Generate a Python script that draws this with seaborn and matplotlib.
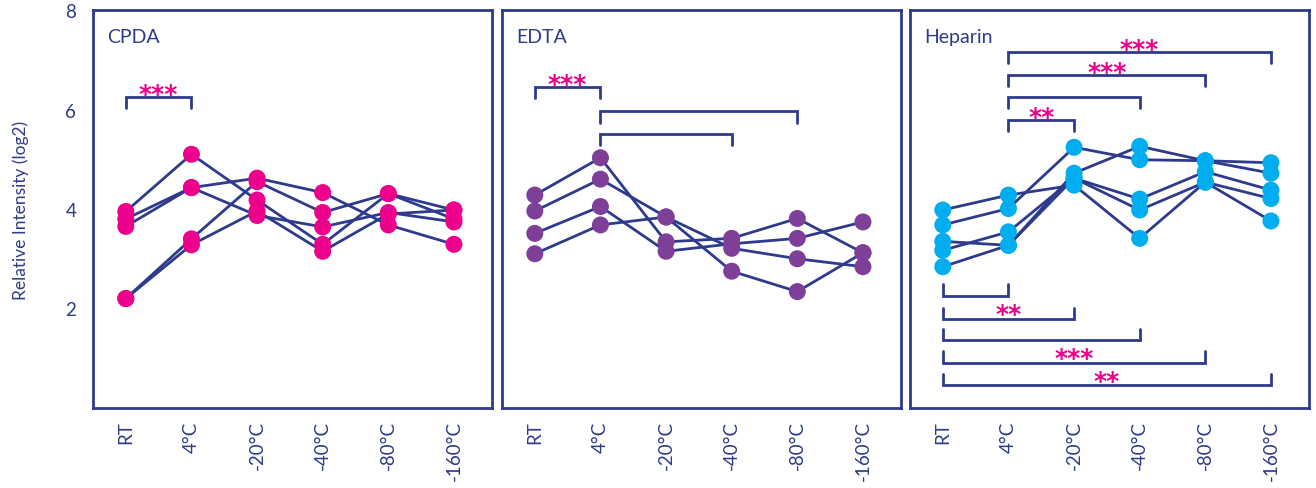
import numpy as np
import pandas as pd
import matplotlib
matplotlib.use("Agg")
import matplotlib.pyplot as plt
import seaborn as sns

# categorias (temperaturas de armazenamento)
temps = ["RT", "4°C", "-20°C", "-40°C", "-80°C", "-160°C"]

# valores (log2), uma lista por amostra
cpda = [
    [3.95, 5.10, 4.18, 3.29, 4.31, 3.98],
    [3.80, 4.43, 4.62, 4.33, 3.68, 3.29],
    [3.65, 4.43, 3.87, 3.64, 3.93, 3.74],
    [2.20, 3.40, 4.55, 3.93, 4.31, 3.80],
    [2.20, 3.28, 3.96, 3.15, 3.90, 3.98],
]
edta = [
    [4.28, 5.03, 3.34, 3.41, 3.81, 3.12],
    [3.96, 4.60, 3.84, 2.75, 2.34, 3.12],
    [3.51, 4.05, 3.15, 3.30, 3.41, 3.74],
    [3.10, 3.68, 3.84, 3.21, 3.00, 2.84],
]
heparin = [
    [3.98, 4.28, 4.48, 3.41, 4.54, 3.76],
    [3.68, 4.01, 5.24, 4.99, 4.97, 4.93],
    [3.35, 3.27, 4.72, 5.26, 4.97, 4.72],
    [3.17, 3.54, 4.62, 4.20, 4.75, 4.38],
    [2.84, 3.27, 4.62, 3.98, 4.54, 4.21],
]

panel_names = ["CPDA", "EDTA", "Heparin"]
panel_data = [cpda, edta, heparin]
panel_colors = ["#EC008C", "#7E3F98", "#00AEEF"]

# comparações significativas: (i, j, altura da barra, estrelas, direção da perna)
brackets = {
    "CPDA": [(0, 1, 6.26, "***", -1)],
    "EDTA": [(0, 1, 6.46, "***", -1), (1, 4, 5.96, "", -1), (1, 3, 5.51, "", -1)],
    "Heparin": [
        (1, 5, 7.16, "***", -1), (1, 4, 6.70, "***", -1),
        (1, 3, 6.26, "", -1), (1, 2, 5.79, "**", -1),
        (0, 1, 2.26, "", 1), (0, 2, 1.79, "**", 1),
        (0, 3, 1.36, "", 1), (0, 4, 0.91, "***", 1),
        (0, 5, 0.46, "**", 1),
    ],
}

navy = "#2E3A8C"
pink = "#EC008C"

sns.set_theme(style="white")
plt.rcParams["font.family"] = ["Lato", "DejaVu Sans"]

fig = plt.figure(figsize=(13.16, 4.89), dpi=100)
lefts = [93, 502, 910]
axes = [fig.add_axes([l / 1316, 1 - 409 / 489, 399 / 1316, 398 / 489]) for l in lefts]

for ax, name, rows, col in zip(axes, panel_names, panel_data, panel_colors):
    recs = []
    for k, row in enumerate(rows):
        for i, v in enumerate(row):
            recs.append({"amostra": k, "pos": i, "val": v})
    df = pd.DataFrame(recs)

    sns.lineplot(data=df, x="pos", y="val", units="amostra", estimator=None,
                 color=navy, lw=2.0, ax=ax, zorder=2, legend=False)
    sns.scatterplot(data=df, x="pos", y="val", color=col, s=150,
                    edgecolor="none", ax=ax, zorder=3, legend=False)

    # barras de significância
    for i, j, y, stars, d in brackets[name]:
        leg = 0.23 * d
        ax.plot([i, i, j, j], [y + leg, y, y, y + leg], color=navy, lw=2.0,
                solid_joinstyle="miter", zorder=4)
        if stars:
            ty = y - 0.19 if d < 0 else y - 0.15
            ax.text((i + j) / 2, ty, stars, color=pink, ha="center",
                    va="bottom", fontsize=18, fontweight="bold",
                    family="DejaVu Sans")

    ax.text(0.035, 0.955, name, transform=ax.transAxes, color=navy, fontsize=14,
            ha="left", va="top")

    ax.set_xlim(-0.5, 5.58)
    ax.set_ylim(0, 8)
    ax.set_xticks(range(len(temps)))
    ax.set_xticklabels(temps, rotation=90)
    ax.set_yticks(range(1, 9))
    ax.set_xlabel("")
    ax.set_ylabel("")
    ax.tick_params(axis="both", direction="in", length=6, width=2, color=navy,
                   labelcolor=navy, labelsize=13.5)
    ax.tick_params(axis="x", pad=9)
    ax.tick_params(axis="y", pad=12)
    for s in ax.spines.values():
        s.set_color(navy)
        s.set_linewidth(2)
    ax.grid(False)

axes[0].set_yticklabels(["", "2", "", "4", "", "6", "", "8"])
axes[0].set_ylabel("Relative Intensity (log2)", color=navy, fontsize=12.5, labelpad=26)
for ax in axes[1:]:
    ax.set_yticklabels([])

fig.savefig("out.png", dpi=100)
